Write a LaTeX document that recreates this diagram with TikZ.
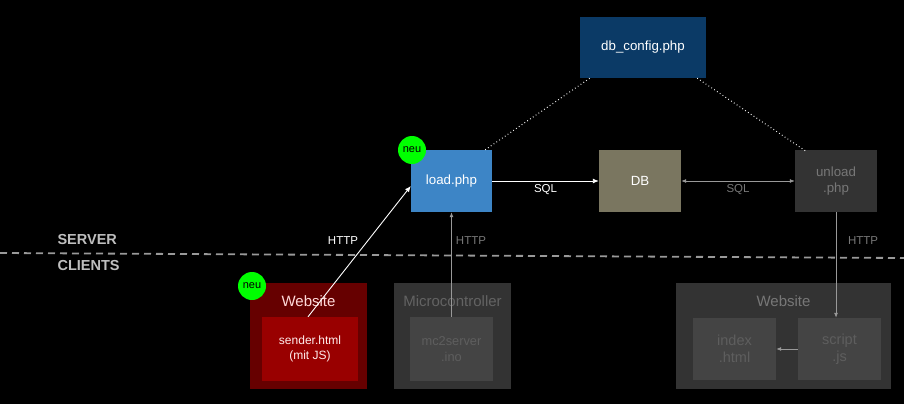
\documentclass[tikz,border=0pt]{standalone}
\usepackage{fontspec}
\setmainfont{Liberation Sans}
\usetikzlibrary{arrows.meta}
\definecolor{dbcfg}{HTML}{0B3A66}
\definecolor{loadc}{HTML}{3D85C6}
\definecolor{dbc}{HTML}{7A7660}
\definecolor{darkbox}{HTML}{333333}
\definecolor{innerbox}{HTML}{444444}
\definecolor{redout}{HTML}{660000}
\definecolor{redin}{HTML}{990000}
\definecolor{neugreen}{HTML}{00FF00}
\definecolor{greytxt}{HTML}{777777}
\definecolor{dimtxt}{HTML}{5E5E5E}
\definecolor{linegrey}{HTML}{999999}
\tikzset{
  box/.style={draw=none, inner sep=0pt, align=center, font=\fontsize{12}{14.5}\selectfont},
  bigbox/.style={box, font=\fontsize{13.3}{16}\selectfont},
  neu/.style={circle, fill=neugreen, minimum size=28pt, inner sep=0pt, font=\fontsize{11}{13}\selectfont, text=black},
  lbl/.style={font=\fontsize{11.5}{13}\selectfont, inner sep=1pt},
  ttl/.style={font=\fontsize{15}{17}\selectfont, inner sep=0pt},
  side/.style={anchor=west, text=lightgray, font=\bfseries\fontsize{14.5}{16}\selectfont},
  warr/.style={draw=white, line width=0.9pt, -{Latex[length=6pt,width=5pt]}},
  garr/.style={draw=linegrey, line width=0.8pt, -{Latex[length=5pt,width=4pt]}},
  dots/.style={draw=white, line width=1pt, dash pattern=on 0.8pt off 2.6pt},
}
\begin{document}
\begin{tikzpicture}[x=1pt,y=-1pt]
\fill[black] (0,0) rectangle (904,404);
\useasboundingbox (0,0) rectangle (904,404);

% server nodes
\node[bigbox, fill=dbcfg, text=white, minimum width=126pt, minimum height=61pt] (cfg) at (643,47.5) {db\_config.php};
\node[bigbox, fill=loadc, text=white, minimum width=81pt, minimum height=62pt] (load) at (451.5,181) {load.php};
\node[bigbox, fill=dbc, text=white, minimum width=82pt, minimum height=62pt] (db) at (640,181) {DB};
\node[bigbox, fill=darkbox, text=greytxt, minimum width=82pt, minimum height=62pt] (unload) at (836,181) {unload\\.php};
\node[neu] (neu1) at (412,150) {neu};

% separator
\coordinate (sepL) at (0,253);
\coordinate (sepR) at (904,258);
\draw[draw=linegrey, line width=1.8pt, dash pattern=on 7pt off 5pt] (sepL) -- (sepR);
\node[side] (srv) at (54,240) {SERVER};
\node[side] (cli) at (54,266) {CLIENTS};

% clients: red website
\node[box, fill=redout, minimum width=117pt, minimum height=106pt] (web1) at (308.5,336) {};
\node[ttl, text=pink!60!white] (web1t) at (308.5,301) {Website};
\node[box, fill=redin, text=pink!30!white, minimum width=96pt, minimum height=64pt] (sender) at (310,349) {sender.html\\(mit JS)};
\node[neu] (neu2) at (252,286) {neu};

% microcontroller
\node[box, fill=darkbox, minimum width=117pt, minimum height=106pt] (mc) at (452.5,336) {};
\node[ttl, text=dimtxt!80!greytxt] (mct) at (452.5,301) {Microcontroller};
\node[box, fill=innerbox, text=dimtxt, minimum width=83pt, minimum height=64pt, font=\fontsize{12.8}{15.5}\selectfont] (mc2) at (451.5,349) {mc2server\\.ino};

% right website
\node[box, fill=darkbox, minimum width=215pt, minimum height=106pt] (web2) at (783.5,336) {};
\node[ttl, text=greytxt] (web2t) at (783.5,301) {Website};
\node[box, fill=innerbox, text=dimtxt, minimum width=83pt, minimum height=62pt, font=\fontsize{14.5}{17.5}\selectfont] (index) at (734.5,349) {index\\.html};
\node[box, fill=innerbox, text=dimtxt, minimum width=83pt, minimum height=62pt, font=\fontsize{14.5}{17.5}\selectfont] (script) at (839.5,349) {script\\.js};

% connectors
\path (sender.north) ++(-2,0) coordinate (sA);
\path (load.west |- 0,186) coordinate (lA);
\draw[warr] (sA) -- (lA);
\node[lbl, text=white] (h1) at (343,241) {HTTP};

\draw[warr] (load.east) -- (db.west) node[lbl, text=white, pos=0.5, below=2pt] (sql1) {SQL};
\draw[garr, {Latex[length=5pt,width=4pt]}-{Latex[length=5pt,width=4pt]}] (db.east) -- (unload.west) node[lbl, text=greytxt, pos=0.5, below=2pt] (sql2) {SQL};

\draw[garr] (mc2.north) -- (mc2.north |- load.south);
\node[lbl, text=greytxt] (h2) at (471,241) {HTTP};

\draw[garr] (unload.south) -- (unload.south |- script.north);
\node[lbl, text=greytxt] (h3) at (863,241) {HTTP};

\draw[garr] (script.west) -- (index.east);

\draw[dots] (load.north east) ++(-7,0) -- ([xshift=10pt]cfg.south west);
\draw[dots] ([xshift=-9pt]cfg.south east) -- ([xshift=12pt,yshift=-2pt]unload.north west);
\end{tikzpicture}
\end{document}
